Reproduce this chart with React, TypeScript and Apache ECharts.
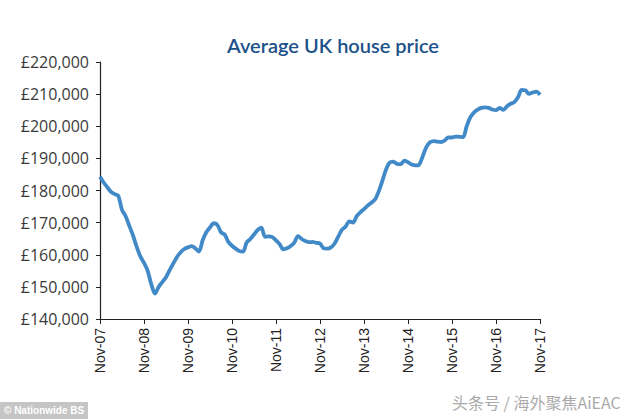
import React, { useEffect, useRef } from "react";
import * as echarts from "echarts";

const title = "Average UK house price";
const startYear = 2007;
const endYear = 2017;
// Monthly average price, Nov-07 .. Nov-17 (121 points)
const prices: number[] = [
  184300, 182500, 181000, 179600, 178900, 178300, 174000, 172000, 169000, 166000,
  162500, 159500, 157500, 155000, 150800, 147900, 150000, 151500, 153000, 155200,
  157300, 159300, 160800, 161800, 162300, 162700, 162000, 161000, 164500, 167000,
  168500, 169800, 169300, 167000, 166300, 164000, 162800, 161900, 161200, 161000,
  163800, 164900, 166300, 167700, 168400, 165600, 165700, 165500, 164500, 163300,
  161700, 162000, 162700, 163800, 165800, 164900, 164300, 163900, 164000, 163700,
  163500, 162000, 161900, 162300, 163500, 165700, 167800, 168800, 170400, 170000,
  172000, 173200, 174200, 175300, 176200, 177200, 179700, 183000, 186500, 188700,
  189000, 188300, 188200, 189300, 188800, 188100, 187800, 188000, 190600, 193500,
  195000, 195400, 195200, 195100, 195600, 196500, 196500, 196800, 196700, 196600,
  200000, 202800, 204300, 205200, 205700, 205900, 205700, 205200, 205000, 205700,
  205100, 206200, 207000, 207500, 209000, 211300, 211200, 210100, 210500, 210800,
  209800,
];
const yMin = 140000;
const yMax = 220000;
const yStep = 10000;
const sourceText = "© Nationwide BS";
const watermark = "头条号 / 海外聚焦AiEAC";

const monthNames = ["Jan", "Feb", "Mar", "Apr", "May", "Jun", "Jul", "Aug", "Sep", "Oct", "Nov", "Dec"];
const categories: string[] = [];
for (let y = startYear; y <= endYear; y++) {
  for (let m = 0; m < 12; m++) {
    if (y === startYear && m < 10) continue;
    if (y === endYear && m > 10) continue;
    categories.push(monthNames[m] + "-" + String(y % 100).padStart(2, "0"));
  }
}

export default function App() {
  const ref = useRef<HTMLDivElement>(null);
  useEffect(() => {
    if (!ref.current) return;
    const chart = echarts.init(ref.current, undefined, { renderer: "svg" });
    chart.setOption({
      animation: false,
      backgroundColor: "#ffffff",
      title: {
        text: title,
        left: 222,
        top: 30,
        textStyle: {
          fontFamily: "Lato",
          fontSize: 20,
          fontWeight: 600,
          color: "#1c5189",
        },
      },
      grid: { left: 100, right: 94, top: 62, bottom: 100, containLabel: false },
      xAxis: {
        type: "category",
        data: categories,
        boundaryGap: false,
        axisLine: { lineStyle: { color: "#222", width: 1.2 } },
        axisTick: { interval: 11, length: 5, lineStyle: { color: "#222" } },
        axisLabel: {
          interval: 11,
          rotate: 90,
          margin: 9,
          fontFamily: "Liberation Sans",
          fontSize: 14,
          color: "#222",
        },
        splitLine: { show: false },
      },
      yAxis: {
        type: "value",
        min: yMin,
        max: yMax,
        interval: yStep,
        axisLine: { show: true, lineStyle: { color: "#222", width: 1.2 } },
        axisTick: { show: true, length: 4, lineStyle: { color: "#222" } },
        axisLabel: {
          margin: 11,
          fontFamily: "Open Sans",
          fontSize: 16,
          color: "#3a3a3a",
          formatter: (v: number) => "£" + v.toLocaleString("en-GB"),
        },
        splitLine: { show: false },
      },
      series: [
        {
          type: "line",
          data: prices,
          showSymbol: false,
          smooth: 0.3,
          lineStyle: { color: "#4189c7", width: 3.8 },
        },
      ],
      graphic: [
        {
          type: "rect",
          left: 0,
          top: 402,
          shape: { width: 88, height: 17 },
          style: { fill: "rgba(150,150,150,0.55)" },
        },
        {
          type: "text",
          left: 4,
          top: 405,
          style: {
            text: sourceText,
            fill: "#ffffff",
            font: "bold 10px 'Liberation Sans'",
          },
        },
        {
          type: "text",
          left: 452,
          top: 394,
          style: {
            text: watermark,
            fill: "#aaaaaa",
            font: "16px 'Noto Sans CJK SC'",
          },
        },
      ],
    });
    return () => chart.dispose();
  }, []);
  return <div ref={ref} style={{ width: 634, height: 419, position: "fixed", left: 0, top: 0 }} />;
}
